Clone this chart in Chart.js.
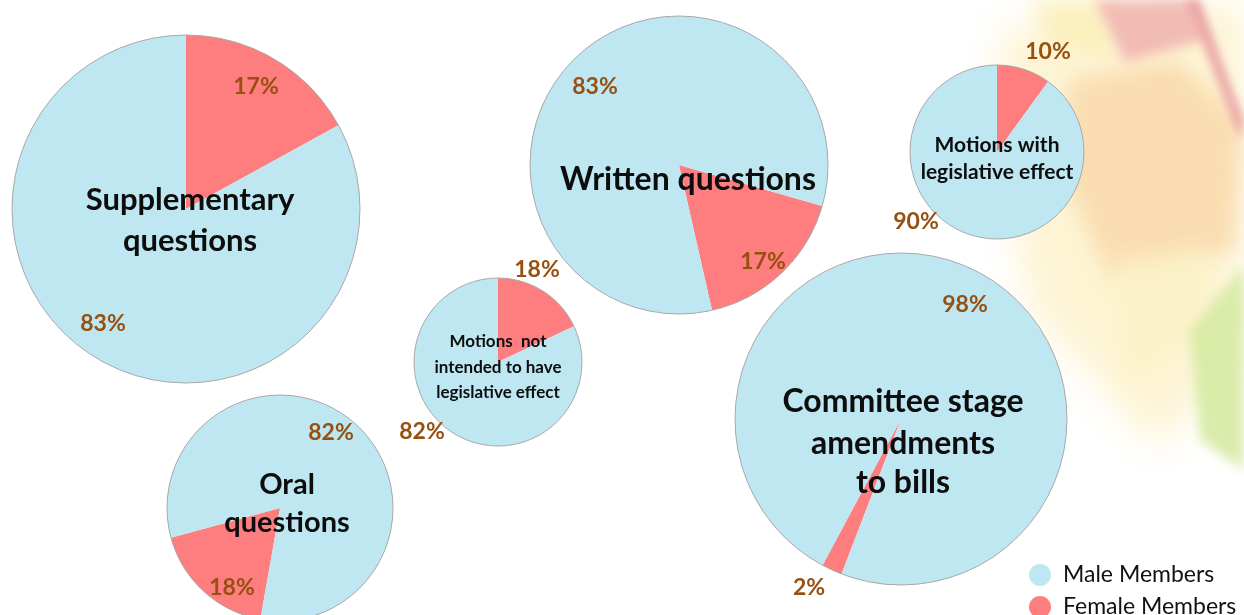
<!DOCTYPE html>
<html lang="en">
    <head>
        <meta charset="utf-8" />
        <title>Male and female members</title>
        <script src="https://cdn.jsdelivr.net/npm/chart.js@4.4.1/dist/chart.umd.min.js"></script>
        <style>
            body { margin: 0; width: 1244px; height: 615px; overflow: hidden; background: #fff; position: relative; font-family: Lato, "Open Sans", sans-serif; }
            canvas { position: absolute; }
            #legend { position: absolute; left: 1029px; top: 560px; font-size: 23px; color: #111; }
            #legend div { height: 32px; line-height: 26px; white-space: nowrap; }
            #legend span { display: inline-block; width: 22px; height: 22px; border-radius: 50%; vertical-align: -4px; margin-right: 12px; }
        </style>
    </head>
    <body>

        <canvas id="backdrop" width="1244" height="615" style="left:0;top:0"></canvas>
        <div id="legend"></div>

        <script>
            // share of items tabled, in percent
            var categories = ["Supplementary questions", "Written questions", "Motions not intended to have legislative effect",
                              "Oral questions", "Motions with legislative effect", "Committee stage amendments to bills"];
            var seriesNames = ["Male Members", "Female Members"];
            var maleShare = [83, 83, 82, 82, 90, 98];
            var femaleShare = [17, 17, 18, 18, 10, 2];

            var maleColor = "#bee7f1";
            var femaleColor = "#fe7e7f";

            // where each pie sits on the page, and how its texts are laid out
            var layout = [
                { cx: 186, cy: 209, r: 174, rot: 0,   font: 31, lines: ["Supplementary", "questions"], tx: 4, ty: [-9, 32],
                  labels: [[70, -122], [-83, 115]] },
                { cx: 679, cy: 165, r: 149, rot: 106, font: 32, lines: ["Written questions"], tx: 9, ty: [15],
                  labels: [[84, 97], [-84, -78]] },
                { cx: 498, cy: 362, r: 84,  rot: 0,   font: 17, lines: ["Motions  not", "intended to have", "legislative effect"], tx: 0, ty: [-20, 6, 31],
                  labels: [[39, -92], [-76, 70]] },
                { cx: 280, cy: 508, r: 113, rot: 190, font: 29, lines: ["Oral", "questions"], tx: 7, ty: [-23, 15],
                  labels: [[-48, 80], [51, -75]] },
                { cx: 997, cy: 152, r: 87,  rot: 0,   font: 21, lines: ["Motions with", "legislative effect"], tx: 0, ty: [-7, 20],
                  labels: [[51, -100], [-81, 70]] },
                { cx: 901, cy: 419, r: 166, rot: 201, font: 32, lines: ["Committee stage", "amendments", "to bills"], tx: 2, ty: [-17, 25, 64],
                  labels: [[-92, 169], [64, -114]] }
            ];

            // soft coloured shapes in the top right corner
            var bg = document.getElementById("backdrop").getContext("2d");
            function shape(pts, color, alpha, blur) {
                bg.filter = "blur(" + blur + "px)";
                bg.globalAlpha = alpha;
                bg.fillStyle = color;
                bg.beginPath();
                bg.moveTo(pts[0][0], pts[0][1]);
                for (var k = 1; k < pts.length; k++) bg.lineTo(pts[k][0], pts[k][1]);
                bg.closePath();
                bg.fill();
            }
            shape([[1000, 30], [1244, 0], [1244, 340], [1160, 450], [1030, 310], [1000, 150]], "#fdf2cc", 0.85, 18);
            shape([[1030, 0], [1110, 0], [1115, 55], [1050, 45]], "#fbeeb4", 0.8, 10);
            shape([[1070, 80], [1175, 60], [1244, 120], [1235, 250], [1110, 280], [1060, 170]], "#f8d5a5", 0.75, 10);
            shape([[1095, 0], [1195, 0], [1205, 40], [1125, 62]], "#efaeab", 0.8, 6);
            shape([[1185, 0], [1200, 0], [1244, 120], [1240, 140]], "#e89ca0", 0.8, 4);
            shape([[1110, 260], [1210, 250], [1200, 330], [1130, 380]], "#fbf1c4", 0.8, 10);
            shape([[1190, 330], [1244, 265], [1244, 470], [1200, 440]], "#d6eaa2", 0.9, 6);
            bg.filter = "none";
            bg.globalAlpha = 1;

            var pieDecor = {
                id: "pieDecor",
                afterDatasetsDraw: function(chart, args, opts) {
                    var ctx = chart.ctx;
                    var arc = chart.getDatasetMeta(0).data[0];
                    var x = arc.x, y = arc.y;
                    ctx.save();
                    ctx.beginPath();
                    ctx.arc(x, y, arc.outerRadius, 0, Math.PI * 2);
                    ctx.strokeStyle = "#a8a8a8";
                    ctx.lineWidth = 1;
                    ctx.stroke();

                    ctx.textAlign = "center";
                    ctx.textBaseline = "middle";
                    ctx.font = "bold 23px Lato";
                    ctx.fillStyle = "#97500f";
                    chart.data.datasets[0].data.forEach(function(v, i) {
                        ctx.fillText(v + "%", x + opts.labels[i][0], y + opts.labels[i][1]);
                    });

                    ctx.font = "bold " + opts.font + "px Lato";
                    ctx.fillStyle = "#0d0d0d";
                    opts.lines.forEach(function(line, i) {
                        ctx.fillText(line, x + opts.tx, y + opts.ty[i]);
                    });
                    ctx.restore();
                }
            };

            var margin = 60;
            layout.forEach(function(p, i) {
                var size = 2 * (p.r + margin);
                var canvas = document.createElement("canvas");
                canvas.width = size;
                canvas.height = size;
                canvas.style.left = (p.cx - size / 2) + "px";
                canvas.style.top = (p.cy - size / 2) + "px";
                document.body.insertBefore(canvas, document.getElementById("legend"));

                new Chart(canvas.getContext("2d"), {
                    type: "pie",
                    data: {
                        labels: [seriesNames[1], seriesNames[0]],
                        datasets: [{
                            label: categories[i],
                            data: [femaleShare[i], maleShare[i]],
                            backgroundColor: [femaleColor, maleColor],
                            borderWidth: 0,
                            hoverOffset: 0
                        }]
                    },
                    options: {
                        responsive: false,
                        animation: false,
                        radius: p.r,
                        rotation: p.rot,
                        layout: { padding: 0 },
                        events: [],
                        plugins: {
                            legend: { display: false },
                            tooltip: { enabled: false },
                            pieDecor: p
                        }
                    },
                    plugins: [pieDecor]
                });
            });

            var legend = document.getElementById("legend");
            [maleColor, femaleColor].forEach(function(c, i) {
                var row = document.createElement("div");
                row.innerHTML = '<span style="background:' + c + '"></span>' + seriesNames[i];
                legend.appendChild(row);
            });
        </script>

    </body>
</html>
